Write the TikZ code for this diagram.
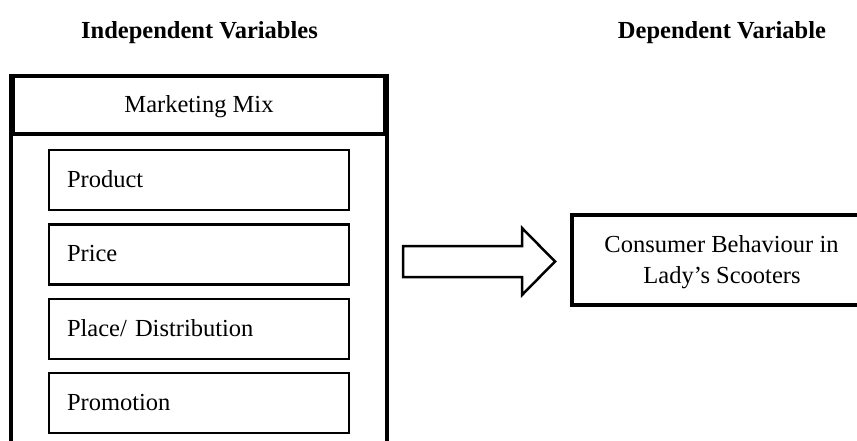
\documentclass[tikz,border=0pt]{standalone}
\usepackage{fontspec}
\setmainfont{Liberation Serif}
\begin{document}
\begin{tikzpicture}[x=1pt,y=-1pt,
  txt/.style={font=\fontsize{24.5}{29}\selectfont, inner sep=0pt},
  heading/.style={font=\fontsize{24.5}{29}\selectfont\bfseries, inner sep=0pt, anchor=base},
  frame/.style={draw, line width=4pt, line join=miter},
  itembox/.style={draw, line width=2.2pt, minimum width=300pt, minimum height=60pt,
    text width=264pt, align=left, inner xsep=18pt, inner ysep=0pt,
    text height=17pt, text depth=3pt, font=\fontsize{24.5}{29}\selectfont},
  blockarrow/.style={draw, line width=2.5pt, line join=miter, fill=white}]
\useasboundingbox (0,0) rectangle (857,441);
\clip (0,0) rectangle (857,441);

% headings
\node[heading] (indep) at (199.5,39) {Independent Variables};
\node[heading] (dep) at (722,39) {Dependent Variable};

% marketing mix frame
\node[frame, minimum width=372pt, minimum height=58pt, inner sep=0pt,
  text height=19pt, text depth=3pt, font=\fontsize{24.5}{29}\selectfont] (mm) at (199,105) {Marketing Mix};
\draw[frame] (mm.north west) -- ++(0,380);
\draw[frame] (mm.north east) -- ++(0,380);

% items
\node[itembox] (product) at (199,180) {Product};
\node[itembox] (price) at (199,254.5) {Price};
\node[itembox] (place) at (199,329) {Place/ Distribution};
\node[itembox] (promo) at (199,403) {Promotion};

% block arrow
\coordinate (a1) at (403,246);
\coordinate (a2) at (522,246);
\coordinate (a3) at (522,228);
\coordinate (tip) at (555,261.5);
\coordinate (a5) at (522,295);
\coordinate (a6) at (522,277);
\coordinate (a7) at (403,277);
\draw[blockarrow] (a1) -- (a2) -- (a3) -- (tip) -- (a5) -- (a6) -- (a7) -- cycle;

% dependent box
\coordinate (dnw) at (572,215);
\coordinate (dsw) at (572,305);
\draw[frame] (880,215) -- (dnw) -- (dsw) -- (880,305);
\node[txt, anchor=base] (cb1) at (721.5,252) {Consumer Behaviour in};
\node[txt, anchor=base] (cb2) at (722,283) {Lady’s Scooters};
\end{tikzpicture}
\end{document}
